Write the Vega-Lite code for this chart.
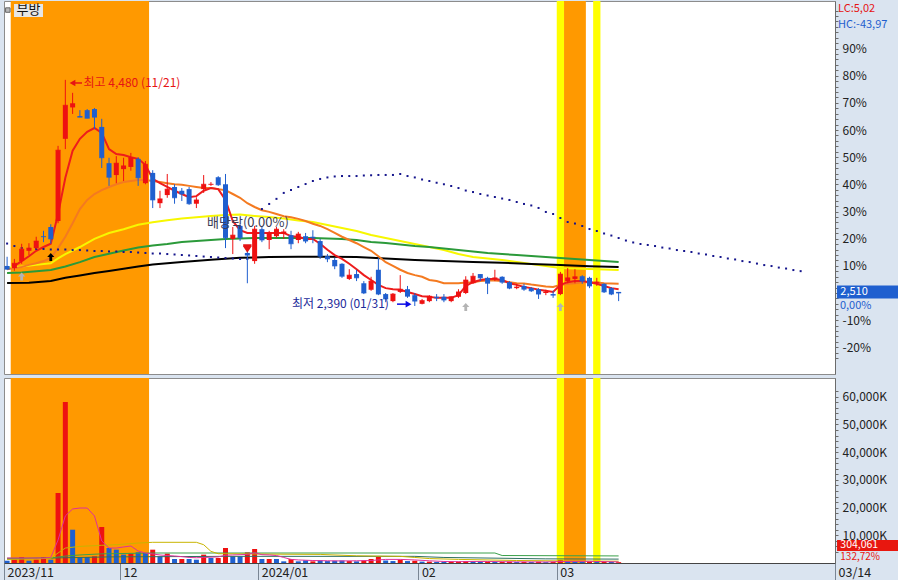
{
"$schema":"https://vega.github.io/schema/vega-lite/v6.json",
"background":"#dae4f0",
"padding":{"left":2,"top":0,"right":0,"bottom":0},
"spacing":2,
"config":{"font":"Noto Sans CJK KR","view":{"stroke":"#8c8c8c","fill":"#ffffff"},"axis":{"labelFont":"Noto Sans CJK KR","labelFontSize":12,"labelColor":"#222222","domainColor":"#6b6b6b","tickColor":"#6b6b6b","grid":false,"labelOverlap":false,"labelFlush":false}},
"datasets":{
"k":[
{"i":0,"o":2760,"h":2845,"l":2725,"c":2730,"v":830,"u":0},
{"i":1,"o":2740,"h":2825,"l":2715,"c":2785,"v":1190,"u":1},
{"i":2,"o":2805,"h":2965,"l":2780,"c":2915,"v":2170,"u":1},
{"i":3,"o":2900,"h":2970,"l":2860,"c":2925,"v":830,"u":0},
{"i":4,"o":2925,"h":3030,"l":2915,"c":2990,"v":1190,"u":1},
{"i":5,"o":3035,"h":3085,"l":2980,"c":3030,"v":2170,"u":1},
{"i":6,"o":3120,"h":3145,"l":2965,"c":3010,"v":1190,"u":0},
{"i":7,"o":3175,"h":3870,"l":3155,"c":3830,"v":25270,"u":1},
{"i":8,"o":3935,"h":4480,"l":3840,"c":4245,"v":58120,"u":1},
{"i":9,"o":4225,"h":4360,"l":4165,"c":4260,"v":12020,"u":0},
{"i":10,"o":4145,"h":4200,"l":4135,"c":4135,"v":2170,"u":0},
{"i":11,"o":4200,"h":4210,"l":4125,"c":4125,"v":2170,"u":0},
{"i":12,"o":4210,"h":4220,"l":4025,"c":4135,"v":2410,"u":1},
{"i":13,"o":4045,"h":4120,"l":3665,"c":3760,"v":13000,"u":1},
{"i":14,"o":3710,"h":3760,"l":3500,"c":3580,"v":5420,"u":0},
{"i":15,"o":3600,"h":3775,"l":3525,"c":3710,"v":4810,"u":0},
{"i":16,"o":3655,"h":3760,"l":3545,"c":3685,"v":3010,"u":0},
{"i":17,"o":3675,"h":3805,"l":3640,"c":3760,"v":3370,"u":1},
{"i":18,"o":3750,"h":3765,"l":3500,"c":3575,"v":3850,"u":0},
{"i":19,"o":3525,"h":3730,"l":3515,"c":3700,"v":3610,"u":0},
{"i":20,"o":3620,"h":3645,"l":3295,"c":3370,"v":4810,"u":1},
{"i":21,"o":3340,"h":3455,"l":3295,"c":3380,"v":2410,"u":0},
{"i":22,"o":3415,"h":3610,"l":3390,"c":3470,"v":3370,"u":1},
{"i":23,"o":3490,"h":3515,"l":3335,"c":3390,"v":1440,"u":0},
{"i":24,"o":3455,"h":3480,"l":3360,"c":3425,"v":1440,"u":1},
{"i":25,"o":3470,"h":3490,"l":3325,"c":3335,"v":1440,"u":0},
{"i":26,"o":3335,"h":3395,"l":3295,"c":3370,"v":1190,"u":0},
{"i":27,"o":3470,"h":3600,"l":3435,"c":3515,"v":3010,"u":1},
{"i":28,"o":3510,"h":3535,"l":3500,"c":3515,"v":1800,"u":0},
{"i":29,"o":3580,"h":3590,"l":3500,"c":3510,"v":1800,"u":1},
{"i":30,"o":3515,"h":3610,"l":2925,"c":3020,"v":5420,"u":1},
{"i":31,"o":3010,"h":3120,"l":2870,"c":3045,"v":2410,"u":0},
{"i":32,"o":3130,"h":3150,"l":2990,"c":3020,"v":2410,"u":0},
{"i":33,"o":2880,"h":2900,"l":2600,"c":2860,"v":3850,"u":1},
{"i":34,"o":2805,"h":3130,"l":2780,"c":3100,"v":5050,"u":1},
{"i":35,"o":3100,"h":3120,"l":2980,"c":3000,"v":1440,"u":0},
{"i":36,"o":3000,"h":3085,"l":2915,"c":3065,"v":1440,"u":1},
{"i":37,"o":3035,"h":3120,"l":3020,"c":3100,"v":1440,"u":0},
{"i":38,"o":3055,"h":3100,"l":3010,"c":3075,"v":600,"u":0},
{"i":39,"o":3045,"h":3085,"l":2915,"c":2965,"v":1440,"u":1},
{"i":40,"o":3000,"h":3075,"l":2970,"c":3055,"v":600,"u":0},
{"i":41,"o":3035,"h":3065,"l":2970,"c":2990,"v":960,"u":0},
{"i":42,"o":3030,"h":3090,"l":2970,"c":3020,"v":600,"u":1},
{"i":43,"o":2990,"h":3010,"l":2825,"c":2850,"v":960,"u":0},
{"i":44,"o":2850,"h":2870,"l":2795,"c":2825,"v":700,"u":0},
{"i":45,"o":2815,"h":2835,"l":2730,"c":2760,"v":800,"u":0},
{"i":46,"o":2780,"h":2785,"l":2650,"c":2665,"v":900,"u":0},
{"i":47,"o":2640,"h":2730,"l":2630,"c":2675,"v":700,"u":1},
{"i":48,"o":2685,"h":2725,"l":2620,"c":2650,"v":600,"u":0},
{"i":49,"o":2600,"h":2620,"l":2500,"c":2510,"v":900,"u":1},
{"i":50,"o":2540,"h":2660,"l":2530,"c":2620,"v":1440,"u":1},
{"i":51,"o":2725,"h":2835,"l":2490,"c":2500,"v":2170,"u":1},
{"i":52,"o":2500,"h":2510,"l":2425,"c":2455,"v":900,"u":0},
{"i":53,"o":2435,"h":2510,"l":2425,"c":2500,"v":700,"u":0},
{"i":54,"o":2520,"h":2675,"l":2510,"c":2545,"v":1190,"u":1},
{"i":55,"o":2545,"h":2575,"l":2465,"c":2480,"v":700,"u":0},
{"i":56,"o":2490,"h":2510,"l":2390,"c":2435,"v":800,"u":1},
{"i":57,"o":2410,"h":2455,"l":2405,"c":2440,"v":500,"u":0},
{"i":58,"o":2435,"h":2490,"l":2425,"c":2480,"v":500,"u":1},
{"i":59,"o":2475,"h":2500,"l":2435,"c":2465,"v":400,"u":0},
{"i":60,"o":2475,"h":2500,"l":2425,"c":2445,"v":400,"u":0},
{"i":61,"o":2435,"h":2480,"l":2425,"c":2475,"v":450,"u":1},
{"i":62,"o":2475,"h":2545,"l":2465,"c":2520,"v":500,"u":1},
{"i":63,"o":2510,"h":2665,"l":2500,"c":2630,"v":700,"u":1},
{"i":64,"o":2600,"h":2695,"l":2595,"c":2665,"v":600,"u":0},
{"i":65,"o":2685,"h":2685,"l":2620,"c":2650,"v":450,"u":0},
{"i":66,"o":2650,"h":2660,"l":2500,"c":2600,"v":500,"u":1},
{"i":67,"o":2640,"h":2725,"l":2620,"c":2650,"v":400,"u":0},
{"i":68,"o":2660,"h":2665,"l":2595,"c":2610,"v":400,"u":1},
{"i":69,"o":2610,"h":2620,"l":2545,"c":2555,"v":450,"u":1},
{"i":70,"o":2555,"h":2595,"l":2545,"c":2565,"v":350,"u":0},
{"i":71,"o":2575,"h":2595,"l":2530,"c":2545,"v":400,"u":1},
{"i":72,"o":2555,"h":2565,"l":2520,"c":2530,"v":350,"u":0},
{"i":73,"o":2545,"h":2555,"l":2455,"c":2500,"v":450,"u":1},
{"i":74,"o":2510,"h":2540,"l":2490,"c":2520,"v":300,"u":0},
{"i":75,"o":2500,"h":2530,"l":2465,"c":2490,"v":350,"u":1},
{"i":76,"o":2500,"h":2705,"l":2490,"c":2685,"v":1100,"u":1},
{"i":77,"o":2620,"h":2740,"l":2600,"c":2650,"v":700,"u":0},
{"i":78,"o":2640,"h":2730,"l":2600,"c":2660,"v":500,"u":0},
{"i":79,"o":2665,"h":2675,"l":2595,"c":2620,"v":450,"u":0},
{"i":80,"o":2650,"h":2660,"l":2555,"c":2575,"v":500,"u":1},
{"i":81,"o":2600,"h":2650,"l":2575,"c":2610,"v":350,"u":0},
{"i":82,"o":2595,"h":2600,"l":2510,"c":2520,"v":400,"u":1},
{"i":83,"o":2555,"h":2565,"l":2490,"c":2500,"v":380,"u":0},
{"i":84,"o":2520,"h":2520,"l":2435,"c":2510,"v":304,"u":1}
],
"m5":[{"i":1,"v":2760},{"i":2,"v":2805},{"i":3,"v":2850},{"i":4,"v":2900},{"i":5,"v":2935},{"i":6,"v":2965},{"i":7,"v":3240},{"i":8,"v":3575},{"i":9,"v":3825},{"i":10,"v":3935},{"i":11,"v":4000},{"i":12,"v":4035},{"i":13,"v":3990},{"i":14,"v":3840},{"i":15,"v":3795},{"i":16,"v":3785},{"i":17,"v":3765},{"i":18,"v":3750},{"i":19,"v":3695},{"i":20,"v":3565},{"i":21,"v":3525},{"i":22,"v":3490},{"i":23,"v":3455},{"i":24,"v":3425},{"i":25,"v":3395},{"i":26,"v":3405},{"i":27,"v":3455},{"i":28,"v":3480},{"i":29,"v":3470},{"i":30,"v":3370},{"i":31,"v":3175},{"i":32,"v":3090},{"i":33,"v":3065},{"i":34,"v":3065},{"i":35,"v":3065},{"i":36,"v":3065},{"i":37,"v":3065},{"i":38,"v":3065},{"i":39,"v":3035},{"i":40,"v":3030},{"i":41,"v":3010},{"i":42,"v":3010},{"i":43,"v":2965},{"i":44,"v":2910},{"i":45,"v":2860},{"i":46,"v":2825},{"i":47,"v":2780},{"i":48,"v":2730},{"i":49,"v":2675},{"i":50,"v":2630},{"i":51,"v":2585},{"i":52,"v":2555},{"i":53,"v":2545},{"i":54,"v":2540},{"i":55,"v":2520},{"i":56,"v":2500},{"i":57,"v":2480},{"i":58,"v":2475},{"i":59,"v":2465},{"i":60,"v":2465},{"i":61,"v":2465},{"i":62,"v":2490},{"i":63,"v":2575},{"i":64,"v":2610},{"i":65,"v":2630},{"i":66,"v":2640},{"i":67,"v":2640},{"i":68,"v":2630},{"i":69,"v":2600},{"i":70,"v":2585},{"i":71,"v":2565},{"i":72,"v":2555},{"i":73,"v":2540},{"i":74,"v":2530},{"i":75,"v":2520},{"i":76,"v":2585},{"i":77,"v":2610},{"i":78,"v":2620},{"i":79,"v":2620},{"i":80,"v":2610},{"i":81,"v":2595},{"i":82,"v":2575},{"i":83,"v":2555},{"i":84,"v":2545}],
"m20":[{"i":0,"v":2730},{"i":1,"v":2740},{"i":2,"v":2750},{"i":3,"v":2770},{"i":4,"v":2785},{"i":5,"v":2805},{"i":6,"v":2835},{"i":7,"v":2925},{"i":8,"v":3030},{"i":9,"v":3155},{"i":10,"v":3285},{"i":11,"v":3370},{"i":12,"v":3425},{"i":13,"v":3460},{"i":14,"v":3490},{"i":15,"v":3515},{"i":16,"v":3535},{"i":17,"v":3545},{"i":18,"v":3555},{"i":19,"v":3555},{"i":20,"v":3545},{"i":21,"v":3535},{"i":22,"v":3525},{"i":23,"v":3515},{"i":24,"v":3510},{"i":25,"v":3500},{"i":26,"v":3490},{"i":27,"v":3480},{"i":28,"v":3480},{"i":29,"v":3470},{"i":30,"v":3460},{"i":31,"v":3425},{"i":32,"v":3390},{"i":33,"v":3340},{"i":34,"v":3305},{"i":35,"v":3275},{"i":36,"v":3260},{"i":37,"v":3240},{"i":38,"v":3220},{"i":39,"v":3210},{"i":40,"v":3195},{"i":41,"v":3175},{"i":42,"v":3150},{"i":43,"v":3130},{"i":44,"v":3100},{"i":45,"v":3065},{"i":46,"v":3030},{"i":47,"v":3000},{"i":48,"v":2970},{"i":49,"v":2935},{"i":50,"v":2900},{"i":51,"v":2850},{"i":52,"v":2795},{"i":53,"v":2760},{"i":54,"v":2725},{"i":55,"v":2695},{"i":56,"v":2675},{"i":57,"v":2660},{"i":58,"v":2630},{"i":59,"v":2620},{"i":60,"v":2600},{"i":61,"v":2600},{"i":62,"v":2600},{"i":63,"v":2607},{"i":64,"v":2610},{"i":65,"v":2620},{"i":66,"v":2625},{"i":67,"v":2625},{"i":68,"v":2620},{"i":69,"v":2610},{"i":70,"v":2600},{"i":71,"v":2598},{"i":72,"v":2588},{"i":73,"v":2580},{"i":74,"v":2570},{"i":75,"v":2565},{"i":76,"v":2585},{"i":77,"v":2595},{"i":78,"v":2600},{"i":79,"v":2610},{"i":80,"v":2610},{"i":81,"v":2607},{"i":82,"v":2600},{"i":83,"v":2598},{"i":84,"v":2595}],
"m60":[{"i":0,"v":2740},{"i":2,"v":2755},{"i":4,"v":2770},{"i":6,"v":2785},{"i":7,"v":2830},{"i":8,"v":2870},{"i":10,"v":2935},{"i":12,"v":3010},{"i":14,"v":3065},{"i":16,"v":3100},{"i":18,"v":3140},{"i":20,"v":3163},{"i":22,"v":3183},{"i":24,"v":3198},{"i":26,"v":3210},{"i":28,"v":3222},{"i":30,"v":3232},{"i":32,"v":3235},{"i":34,"v":3222},{"i":36,"v":3212},{"i":38,"v":3198},{"i":40,"v":3180},{"i":42,"v":3166},{"i":44,"v":3138},{"i":46,"v":3111},{"i":48,"v":3083},{"i":50,"v":3046},{"i":52,"v":3018},{"i":54,"v":2990},{"i":56,"v":2963},{"i":58,"v":2935},{"i":60,"v":2907},{"i":62,"v":2870},{"i":64,"v":2842},{"i":66,"v":2829},{"i":68,"v":2815},{"i":70,"v":2796},{"i":72,"v":2778},{"i":74,"v":2759},{"i":76,"v":2741},{"i":78,"v":2736},{"i":80,"v":2731},{"i":82,"v":2727},{"i":84,"v":2722}],
"m120":[{"i":0,"v":2695},{"i":2,"v":2700},{"i":4,"v":2710},{"i":6,"v":2722},{"i":8,"v":2755},{"i":10,"v":2795},{"i":12,"v":2843},{"i":14,"v":2872},{"i":16,"v":2903},{"i":18,"v":2931},{"i":20,"v":2949},{"i":22,"v":2963},{"i":24,"v":2981},{"i":26,"v":2991},{"i":28,"v":3000},{"i":30,"v":3009},{"i":32,"v":3014},{"i":34,"v":3018},{"i":42,"v":3018},{"i":44,"v":3014},{"i":46,"v":3009},{"i":48,"v":3000},{"i":50,"v":2981},{"i":52,"v":2972},{"i":54,"v":2958},{"i":56,"v":2944},{"i":58,"v":2935},{"i":60,"v":2921},{"i":62,"v":2907},{"i":64,"v":2894},{"i":66,"v":2880},{"i":68,"v":2870},{"i":70,"v":2861},{"i":72,"v":2852},{"i":74,"v":2843},{"i":76,"v":2833},{"i":78,"v":2824},{"i":80,"v":2815},{"i":82,"v":2806},{"i":84,"v":2796}],
"m240":[{"i":0,"v":2602},{"i":3,"v":2605},{"i":6,"v":2620},{"i":8,"v":2650},{"i":10,"v":2672},{"i":12,"v":2695},{"i":14,"v":2714},{"i":16,"v":2735},{"i":18,"v":2755},{"i":20,"v":2774},{"i":24,"v":2797},{"i":28,"v":2818},{"i":32,"v":2835},{"i":36,"v":2842},{"i":40,"v":2844},{"i":44,"v":2845},{"i":48,"v":2842},{"i":52,"v":2830},{"i":56,"v":2816},{"i":60,"v":2805},{"i":64,"v":2797},{"i":68,"v":2790},{"i":72,"v":2779},{"i":76,"v":2769},{"i":80,"v":2757},{"i":84,"v":2750}],
"d":[{"i":0,"v":2967},{"i":1,"v":2944},{"i":2,"v":2926},{"i":3,"v":2917},{"i":4,"v":2917},{"i":5,"v":2917},{"i":6,"v":2912},{"i":7,"v":2912},{"i":8,"v":2912},{"i":9,"v":2907},{"i":10,"v":2907},{"i":11,"v":2903},{"i":12,"v":2898},{"i":13,"v":2898},{"i":14,"v":2894},{"i":15,"v":2894},{"i":16,"v":2889},{"i":17,"v":2889},{"i":18,"v":2884},{"i":19,"v":2880},{"i":20,"v":2875},{"i":21,"v":2875},{"i":22,"v":2870},{"i":23,"v":2866},{"i":24,"v":2861},{"i":25,"v":2857},{"i":26,"v":2852},{"i":27,"v":2847},{"i":28,"v":2843},{"i":29,"v":2838},{"i":30,"v":2833},{"i":31,"v":2829},{"i":32,"v":2824},{"i":33,"v":2824},{"i":35,"v":3286},{"i":36,"v":3333},{"i":37,"v":3380},{"i":38,"v":3435},{"i":39,"v":3462},{"i":40,"v":3490},{"i":41,"v":3517},{"i":42,"v":3545},{"i":43,"v":3564},{"i":44,"v":3578},{"i":45,"v":3587},{"i":46,"v":3591},{"i":47,"v":3591},{"i":48,"v":3591},{"i":49,"v":3596},{"i":50,"v":3598},{"i":51,"v":3601},{"i":52,"v":3601},{"i":53,"v":3601},{"i":54,"v":3610},{"i":55,"v":3591},{"i":56,"v":3578},{"i":57,"v":3559},{"i":58,"v":3545},{"i":59,"v":3529},{"i":60,"v":3515},{"i":61,"v":3499},{"i":62,"v":3480},{"i":63,"v":3457},{"i":64,"v":3443},{"i":65,"v":3425},{"i":66,"v":3411},{"i":67,"v":3397},{"i":68,"v":3383},{"i":69,"v":3370},{"i":70,"v":3351},{"i":71,"v":3333},{"i":72,"v":3319},{"i":73,"v":3296},{"i":74,"v":3259},{"i":75,"v":3240},{"i":76,"v":3203},{"i":77,"v":3166},{"i":78,"v":3152},{"i":79,"v":3129},{"i":80,"v":3101},{"i":81,"v":3083},{"i":82,"v":3060},{"i":83,"v":3041},{"i":84,"v":3018},{"i":85,"v":2995},{"i":86,"v":2977},{"i":87,"v":2963},{"i":88,"v":2954},{"i":89,"v":2944},{"i":90,"v":2930},{"i":91,"v":2921},{"i":92,"v":2907},{"i":93,"v":2898},{"i":94,"v":2889},{"i":95,"v":2875},{"i":96,"v":2866},{"i":97,"v":2852},{"i":98,"v":2843},{"i":99,"v":2829},{"i":100,"v":2820},{"i":101,"v":2805},{"i":102,"v":2796},{"i":103,"v":2782},{"i":104,"v":2768},{"i":105,"v":2759},{"i":106,"v":2745},{"i":107,"v":2736},{"i":108,"v":2722},{"i":109,"v":2712}],
"bands":[{"s":0.5,"e":19.5,"c":"o"},{"s":75.5,"e":76.5,"c":"y"},{"s":76.5,"e":79.5,"c":"o"},{"s":80.5,"e":81.5,"c":"y"}],
"vm5":[{"i":0,"v":1800},{"i":5,"v":1800},{"i":6,"v":1990},{"i":7,"v":8300},{"i":8,"v":17000},{"i":9,"v":19500},{"i":10,"v":19850},{"i":11,"v":19850},{"i":12,"v":17000},{"i":13,"v":7940},{"i":14,"v":5400},{"i":15,"v":5400},{"i":16,"v":5780},{"i":17,"v":6140},{"i":18,"v":4330},{"i":19,"v":3610},{"i":20,"v":3250},{"i":21,"v":2890},{"i":22,"v":2700},{"i":23,"v":2530},{"i":24,"v":2300},{"i":25,"v":2000},{"i":26,"v":1900},{"i":27,"v":2000},{"i":28,"v":2100},{"i":29,"v":2200},{"i":30,"v":2800},{"i":31,"v":2900},{"i":32,"v":3000},{"i":33,"v":3100},{"i":34,"v":3700},{"i":35,"v":3000},{"i":36,"v":2900},{"i":37,"v":2700},{"i":38,"v":2000},{"i":39,"v":1300},{"i":40,"v":1100},{"i":41,"v":1000},{"i":42,"v":900},{"i":43,"v":850},{"i":44,"v":800},{"i":46,"v":750},{"i":48,"v":800},{"i":50,"v":900},{"i":52,"v":1300},{"i":54,"v":1300},{"i":56,"v":1100},{"i":58,"v":800},{"i":60,"v":550},{"i":62,"v":470},{"i":64,"v":550},{"i":66,"v":550},{"i":68,"v":470},{"i":70,"v":420},{"i":72,"v":400},{"i":74,"v":380},{"i":76,"v":530},{"i":78,"v":600},{"i":80,"v":600},{"i":82,"v":500},{"i":84,"v":390}],
"vm20":[{"i":0,"v":1300},{"i":4,"v":1500},{"i":6,"v":1700},{"i":7,"v":3610},{"i":8,"v":5400},{"i":10,"v":6000},{"i":13,"v":6400},{"i":15,"v":6600},{"i":18,"v":7200},{"i":20,"v":7470},{"i":26,"v":7470},{"i":27,"v":6600},{"i":28,"v":4200},{"i":29,"v":3360},{"i":36,"v":3200},{"i":43,"v":3100},{"i":48,"v":2600},{"i":54,"v":2400},{"i":56,"v":2000},{"i":58,"v":1600},{"i":62,"v":1300},{"i":70,"v":900},{"i":76,"v":750},{"i":84,"v":650}],
"vm60":[{"i":0,"v":1700},{"i":6,"v":1800},{"i":8,"v":2500},{"i":10,"v":2900},{"i":13,"v":3300},{"i":20,"v":3610},{"i":67,"v":3610},{"i":68,"v":2700},{"i":84,"v":2550}],
"vm120":[{"i":0,"v":1500},{"i":8,"v":1900},{"i":14,"v":2200},{"i":30,"v":2400},{"i":56,"v":2400},{"i":60,"v":2000},{"i":74,"v":1500},{"i":84,"v":1400}]
},
"vconcat":[
{
"width":831,"height":373,
"layer":[
{"data":{"name":"bands"},"mark":{"type":"rect"},"encoding":{"x":{"field":"s","type":"quantitative","scale":{"domain":[-0.426,113.72],"nice":false,"zero":false,"padding":0},"axis":null},"x2":{"field":"e"},"color":{"condition":{"test":"datum.c == 'o'","value":"#ff9900"},"value":"#ffff00"}}},
{"data":{"name":"m60"},"mark":{"type":"line","color":"#f7f700","strokeWidth":2},"encoding":{"x":{"field":"i","type":"quantitative","axis":null},"y":{"field":"v","type":"quantitative","scale":{"domain":[1761.4,5208.7],"nice":false,"zero":false}}}},
{"data":{"name":"m120"},"mark":{"type":"line","color":"#2b9a3a","strokeWidth":2},"encoding":{"x":{"field":"i","type":"quantitative","axis":null},"y":{"field":"v","type":"quantitative"}}},
{"data":{"name":"m240"},"mark":{"type":"line","color":"#000000","strokeWidth":2},"encoding":{"x":{"field":"i","type":"quantitative","axis":null},"y":{"field":"v","type":"quantitative"}}},
{"data":{"name":"m20"},"mark":{"type":"line","color":"#f47a20","strokeWidth":2},"encoding":{"x":{"field":"i","type":"quantitative","axis":null},"y":{"field":"v","type":"quantitative"}}},
{"data":{"name":"m5"},"mark":{"type":"line","color":"#ee1c1c","strokeWidth":2},"encoding":{"x":{"field":"i","type":"quantitative","axis":null},"y":{"field":"v","type":"quantitative"}}},
{"data":{"name":"d"},"mark":{"type":"point","shape":"square","filled":true,"size":4,"color":"#15158c","opacity":1},"encoding":{"x":{"field":"i","type":"quantitative","axis":null},"y":{"field":"v","type":"quantitative"}}},
{"data":{"name":"k"},"mark":{"type":"rule","strokeWidth":1},"encoding":{"x":{"field":"i","type":"quantitative","axis":null},"y":{"field":"l","type":"quantitative","axis":{"orient":"right","title":null,"tickCount":200,"values":[1907.6,1957.8,2008,2058.2,2108.4,2158.6,2208.8,2259,2309.2,2359.4,2409.6,2459.8,2510,2560.2,2610.4,2660.6,2710.8,2761,2811.2,2861.4,2911.6,2961.8,3012,3062.2,3112.4,3162.6,3212.8,3263,3313.2,3363.4,3413.6,3463.8,3514,3564.2,3614.4,3664.6,3714.8,3765,3815.2,3865.4,3915.6,3965.8,4016,4066.2,4116.4,4166.6,4216.8,4267,4317.2,4367.4,4417.6,4467.8,4518,4568.2,4618.4,4668.6,4718.8,4769,4819.2,4869.4,4919.6,4969.8,5020,5070.2,5120.4],"labelExpr":"(abs(datum.value/251 - 10 - round(datum.value/251 - 10)) < 0.02 && abs(datum.value - 2510) > 1 && datum.value < 4900) ? (round((datum.value/2510 - 1)*100) + '%') : ''","tickSize":3,"labelPadding":4,"labelOverlap":false,"labelFlush":false,"labelBound":false,"grid":false}},"y2":{"field":"h"},"color":{"condition":{"test":"datum.c >= datum.o","value":"#ee1111"},"value":"#1f5fcf"}}},
{"data":{"name":"k"},"mark":{"type":"bar","size":5},"encoding":{"x":{"field":"i","type":"quantitative","axis":null},"y":{"field":"o","type":"quantitative"},"y2":{"field":"c"},"color":{"condition":{"test":"datum.c >= datum.o","value":"#ee1111"},"value":"#1f5fcf"}}},
{"data":{"name":"k"},"mark":{"type":"tick","orient":"horizontal","size":5,"thickness":1},"encoding":{"x":{"field":"i","type":"quantitative","axis":null},"y":{"field":"c","type":"quantitative"},"color":{"condition":{"test":"datum.c >= datum.o","value":"#ee1111"},"value":"#1f5fcf"}}},
{"data":{"values":[{"x1":0.95,"x2":4.93,"p1":5061,"p2":5181,"t":"g"},{"x1":114.0,"x2":122.6,"p1":2459,"p2":2579,"t":"b"}]},"mark":{"type":"rect"},"encoding":{"x":{"field":"x1","type":"quantitative","axis":null},"x2":{"field":"x2"},"y":{"field":"p1","type":"quantitative"},"y2":{"field":"p2"},"color":{"condition":{"test":"datum.t == 'g'","value":"#e6e6e6"},"value":"#1f5fcf"}}},
{"data":{"values":[{"x1":9.33,"x2":10.29,"p":4451,"t":"r"},{"x1":53.56,"x2":54.79,"p":2407,"t":"b"}]},"mark":{"type":"rule","strokeWidth":1.5},"encoding":{"x":{"field":"x1","type":"quantitative","axis":null},"x2":{"field":"x2"},"y":{"field":"p","type":"quantitative"},"color":{"condition":{"test":"datum.t == 'r'","value":"#e61414"},"value":"#0a0ae6"}}},
{"data":{"values":[{"xi":8.98,"p":4451}]},"mark":{"type":"point","shape":"triangle-left","filled":true,"size":45,"color":"#e61414","opacity":1},"encoding":{"x":{"field":"xi","type":"quantitative","axis":null},"y":{"field":"p","type":"quantitative"}}},
{"data":{"values":[{"xi":55.14,"p":2407}]},"mark":{"type":"point","shape":"triangle-right","filled":true,"size":45,"color":"#0a0ae6","opacity":1},"encoding":{"x":{"field":"xi","type":"quantitative","axis":null},"y":{"field":"p","type":"quantitative"}}},
{"data":{"values":[{"xi":6,"p":2842,"t":"k"},{"xi":2,"p":2662,"t":"g"},{"xi":63,"p":2380,"t":"g"},{"xi":76,"p":2380,"t":"g"}]},"mark":{"type":"point","shape":"M-0.35,1L0.35,1L0.35,0L0.9,0L0,-1L-0.9,0L-0.35,0Z","filled":true,"size":64,"opacity":1},"encoding":{"x":{"field":"xi","type":"quantitative","axis":null},"y":{"field":"p","type":"quantitative"},"color":{"condition":{"test":"datum.t == 'k'","value":"#000000"},"value":"#b4b4b4"}}},
{"data":{"values":[{"xi":33,"p":2921}]},"mark":{"type":"point","shape":"M-1,-1L1,-1L1,-0.5L0,1L-1,-0.5Z","filled":true,"size":70,"color":"#e61414","opacity":1},"encoding":{"x":{"field":"xi","type":"quantitative","axis":null},"y":{"field":"p","type":"quantitative"}}},
{"data":{"values":[{"xi":0.1,"p":5125}]},"mark":{"type":"point","shape":"square","filled":true,"size":20,"color":"#b8b8b8","stroke":"#666666","strokeWidth":1,"opacity":1},"encoding":{"x":{"field":"xi","type":"quantitative","axis":null},"y":{"field":"p","type":"quantitative"}}},
{"data":{"values":[{"xi":2.94,"p":5121,"t":"부방"}]},"mark":{"type":"text","align":"center","baseline":"middle","fontSize":13,"color":"#111111","font":"Noto Sans CJK KR"},"encoding":{"x":{"field":"xi","type":"quantitative","axis":null},"y":{"field":"p","type":"quantitative"},"text":{"field":"t"}}},
{"data":{"values":[{"xi":10.49,"p":4451,"t":"최고 4,480 (11/21)"}]},"mark":{"type":"text","align":"left","baseline":"middle","fontSize":12,"color":"#e61414","font":"Noto Sans CJK KR"},"encoding":{"x":{"field":"xi","type":"quantitative","axis":null},"y":{"field":"p","type":"quantitative"},"text":{"field":"t"}}},
{"data":{"values":[{"xi":114.13,"p":5139,"t":"LC:5,02"}]},"mark":{"type":"text","align":"left","baseline":"middle","fontSize":11,"color":"#e61414","font":"Noto Sans CJK KR"},"encoding":{"x":{"field":"xi","type":"quantitative","axis":null},"y":{"field":"p","type":"quantitative"},"text":{"field":"t"}}},
{"data":{"values":[{"xi":114.13,"p":4991,"t":"HC:-43,97"}]},"mark":{"type":"text","align":"left","baseline":"middle","fontSize":11,"color":"#1f5fcf","font":"Noto Sans CJK KR"},"encoding":{"x":{"field":"xi","type":"quantitative","axis":null},"y":{"field":"p","type":"quantitative"},"text":{"field":"t"}}},
{"data":{"values":[{"xi":114.4,"p":2390,"t":"0,00%"}]},"mark":{"type":"text","align":"left","baseline":"middle","fontSize":11,"color":"#1f5fcf","font":"Noto Sans CJK KR"},"encoding":{"x":{"field":"xi","type":"quantitative","axis":null},"y":{"field":"p","type":"quantitative"},"text":{"field":"t"}}},
{"data":{"values":[{"xi":39.13,"p":2407,"t":"최저 2,390 (01/31)"}]},"mark":{"type":"text","align":"left","baseline":"middle","fontSize":12,"color":"#1c2a9a","font":"Noto Sans CJK KR"},"encoding":{"x":{"field":"xi","type":"quantitative","axis":null},"y":{"field":"p","type":"quantitative"},"text":{"field":"t"}}},
{"data":{"values":[{"xi":27.46,"p":3157,"t":"배당락(0.00%)"}]},"mark":{"type":"text","align":"left","baseline":"middle","fontSize":13,"color":"#3b3b55","font":"Noto Sans CJK KR"},"encoding":{"x":{"field":"xi","type":"quantitative","axis":null},"y":{"field":"p","type":"quantitative"},"text":{"field":"t"}}},
{"data":{"values":[{"xi":114.45,"p":2522,"t":"2,510"}]},"mark":{"type":"text","align":"left","baseline":"middle","fontSize":11,"color":"#ffffff","font":"Noto Sans CJK KR"},"encoding":{"x":{"field":"xi","type":"quantitative","axis":null},"y":{"field":"p","type":"quantitative"},"text":{"field":"t"}}}
]
},
{
"width":831,"height":185,
"layer":[
{"data":{"name":"bands"},"mark":{"type":"rect"},"encoding":{"x":{"field":"s","type":"quantitative","scale":{"domain":[-0.426,113.72],"nice":false,"zero":false,"padding":0}},"x2":{"field":"e"},"color":{"condition":{"test":"datum.c == 'o'","value":"#ff9900"},"value":"#ffff00"}}},
{"data":{"name":"k"},"mark":{"type":"bar","size":5},"encoding":{"x":{"field":"i","type":"quantitative","axis":{"orient":"bottom","title":null,"tickCount":50,"values":[-0.426,15.5,34.5,56.5,75.5,113.72],"labelExpr":"datum.value < 0 ? '2023/11' : datum.value < 20 ? '12' : datum.value < 40 ? '2024/01' : datum.value < 60 ? '02' : datum.value < 100 ? '03' : '03/14'","tickSize":20,"tickColor":"#7a8694","domainColor":"#444444","labelAlign":"left","labelBaseline":"top","labelPadding":-17,"labelOffset":3,"labelFontSize":12.5,"labelFlush":false,"labelOverlap":false,"labelBound":false,"grid":false}},"y":{"field":"v","type":"quantitative","scale":{"domain":[0,66785],"nice":false,"zero":false},"axis":{"orient":"right","title":null,"tickCount":200,"values":[4000,6000,8000,10000,12000,14000,16000,18000,20000,22000,24000,26000,28000,30000,32000,34000,36000,38000,40000,42000,44000,46000,48000,50000,52000,54000,56000,58000,60000,62000],"labelExpr":"datum.value % 10000 == 0 ? format(datum.value, ',') + 'K' : ''","tickSize":3,"labelPadding":4,"labelOverlap":false,"labelFlush":false,"labelBound":false,"grid":false}},"color":{"condition":{"test":"datum.u == 1","value":"#ee1111"},"value":"#1f5fcf"}}},
{"data":{"name":"vm120"},"mark":{"type":"line","color":"#2f7060","strokeWidth":1},"encoding":{"x":{"field":"i","type":"quantitative"},"y":{"field":"v","type":"quantitative"}}},
{"data":{"name":"vm60"},"mark":{"type":"line","color":"#3aa04a","strokeWidth":1},"encoding":{"x":{"field":"i","type":"quantitative"},"y":{"field":"v","type":"quantitative"}}},
{"data":{"name":"vm20"},"mark":{"type":"line","color":"#c8b400","strokeWidth":1},"encoding":{"x":{"field":"i","type":"quantitative"},"y":{"field":"v","type":"quantitative"}}},
{"data":{"name":"vm5"},"mark":{"type":"line","color":"#e0309a","strokeWidth":1},"encoding":{"x":{"field":"i","type":"quantitative"},"y":{"field":"v","type":"quantitative"}}},
{"data":{"values":[{"x1":114.0,"x2":122.6,"v1":4330,"v2":8300}]},"mark":{"type":"rect","color":"#e8170f"},"encoding":{"x":{"field":"x1","type":"quantitative"},"x2":{"field":"x2"},"y":{"field":"v1","type":"quantitative"},"y2":{"field":"v2"}}},
{"data":{"values":[{"xi":114.45,"v":6320,"t":"304,061"}]},"mark":{"type":"text","align":"left","baseline":"middle","fontSize":10.5,"color":"#ffffff","font":"Noto Sans CJK KR"},"encoding":{"x":{"field":"xi","type":"quantitative"},"y":{"field":"v","type":"quantitative"},"text":{"field":"t"}}},
{"data":{"values":[{"xi":114.45,"v":2200,"t":"132,72%"}]},"mark":{"type":"text","align":"left","baseline":"middle","fontSize":10,"color":"#e8170f","font":"Noto Sans CJK KR"},"encoding":{"x":{"field":"xi","type":"quantitative"},"y":{"field":"v","type":"quantitative"},"text":{"field":"t"}}}
]
}
]
}
